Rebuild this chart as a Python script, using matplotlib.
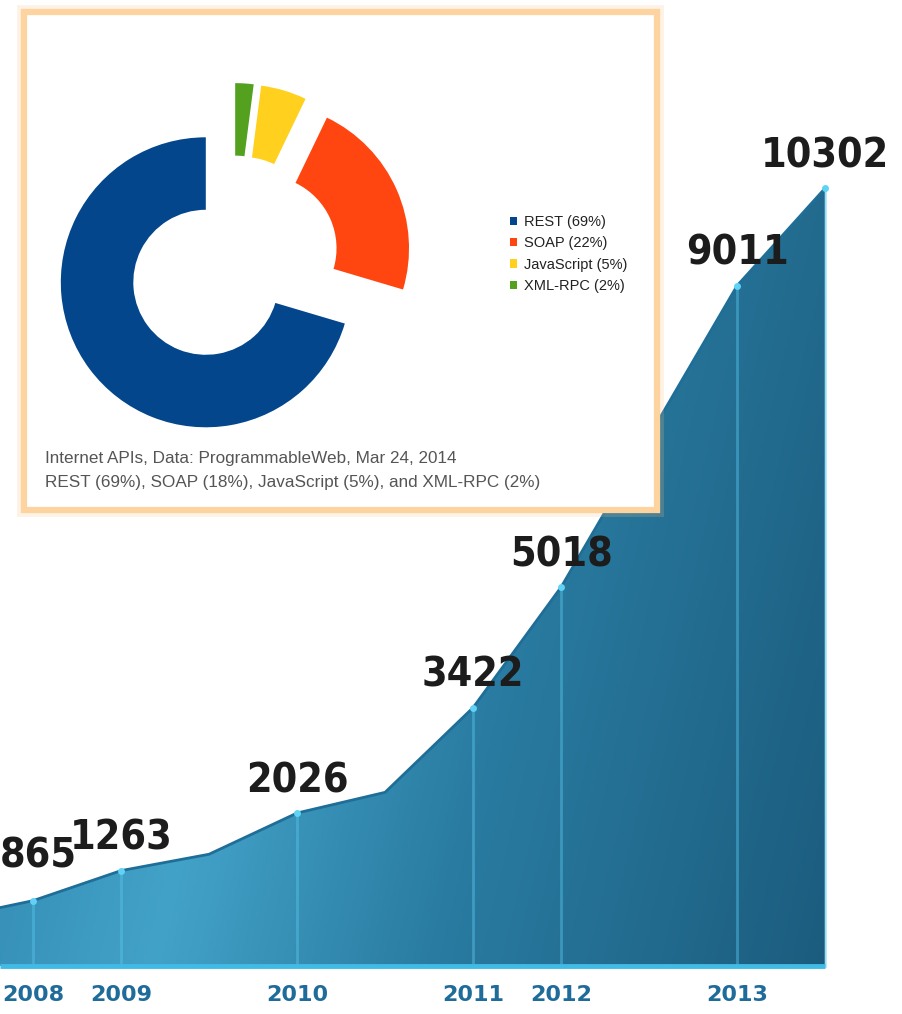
import numpy as np
import matplotlib.pyplot as plt
from matplotlib import font_manager
from matplotlib.font_manager import FontProperties
from matplotlib.patches import Rectangle
from matplotlib.colors import LinearSegmentedColormap

# API count milestones (months counted from the first labelled point)
milestone_month = [0, 6, 18, 30, 36, 48, 54]
api_count = [865, 1263, 2026, 3422, 5018, 9011, 10302]
year_labels = ['2008', '2009', '2010', '2011', '2012', '2013']

# outline of the area (includes the unlabelled bends)
curve_month = [-6, 0, 6, 12, 18, 24, 30, 36, 48, 54]
curve_count = [620, 865, 1263, 1480, 2026, 2300, 3422, 5018, 9011, 10302]

# API styles share
styles = ['REST (69%)', 'SOAP (22%)', 'JavaScript (5%)', 'XML-RPC (2%)']
shares = [69, 22, 5, 2]
style_colors = ['#03468c', '#ff4610', '#ffd11e', '#54a11f']

caption = ['Internet APIs, Data: ProgrammableWeb, Mar 24, 2014',
           'REST (69%), SOAP (18%), JavaScript (5%), and XML-RPC (2%)']

# narrow bold face for the big numbers, if one is around
narrow = None
for f in font_manager.fontManager.ttflist:
    bold = f.weight in ('bold', 700, 'heavy')
    if bold and ('Narrow' in f.name or 'Condensed' in f.name or 'Condensed' in f.fname
                 or f.stretch in ('condensed', 'semi-condensed')):
        narrow = f.fname
        break
if narrow:
    num_font = FontProperties(fname=narrow, size=29.5)
else:
    num_font = FontProperties(family='DejaVu Sans', weight='bold', size=25)

W, H = 902, 1014
fig = plt.figure(figsize=(W / 100, H / 100), dpi=100)
ax = fig.add_axes([0, 0, 1, 1])
ax.set_xlim(-2.25, 59.24)
ax.set_ylim(-636, 12795)
ax.axis('off')

# gradient-filled area
fill = ax.fill_between(curve_month, curve_count, 0, color='none', lw=0)
cmap = LinearSegmentedColormap.from_list('api', [
    (0.0, '#2b80a8'), (0.33, '#43a2c8'), (0.6, '#2a7ca2'), (1.0, '#1b5c7e')])
gx = np.linspace(0, 1, 300)
gy = np.linspace(0, 1, 200)[:, None]
grad = gx[None, :] * 0.85 + (1 - gy) * 0.18
img = ax.imshow(grad, cmap=cmap, vmin=0, vmax=1, aspect='auto', origin='lower',
                extent=(-2.25, 56.5, 0, 10302), zorder=1, interpolation='bicubic')
img.set_clip_path(fill.get_paths()[0], transform=ax.transData)

ax.plot(curve_month, curve_count, color='#1e6e98', lw=2, zorder=2)

for i, (m, v) in enumerate(zip(milestone_month, api_count)):
    ax.plot([m, m], [0, v], color='#58c6ec', lw=2, alpha=0.45, zorder=2)
    ax.plot(m, v, 'o', ms=5, color='#5fd2f6', mec='none', zorder=3)
    dx = 5 if i == 0 else 0
    dy = 44 if i == 0 else 32
    ax.annotate(str(v), (m, v), xytext=(dx, dy), textcoords='offset pixels',
                ha='center', va='center', fontproperties=num_font,
                color='#1c1c1c', zorder=4)

ax.plot([-2.25, 54], [0, 0], color='#3fbbe6', lw=3.5, zorder=3, solid_capstyle='butt')

for m, lab in zip(milestone_month, year_labels):
    ax.annotate(lab, (m, 0), xytext=(0, -29), textcoords='offset pixels',
                ha='center', va='center', fontsize=16, fontweight='bold',
                color='#1f6b9a', zorder=4)

# inset box with orange glow
def fx(px):
    return px / W

def fy(py):
    return 1 - py / H

x0, x1, y0, y1 = 24, 657, 12, 510
fig.patches.append(Rectangle((fx(x0), fy(y1)), fx(x1 - x0), (y1 - y0) / H,
                             transform=fig.transFigure, fill=False,
                             ec='#f9c07e', lw=10, alpha=0.2, zorder=5))
fig.patches.append(Rectangle((fx(x0), fy(y1)), fx(x1 - x0), (y1 - y0) / H,
                             transform=fig.transFigure, fc='white',
                             ec='#fdd4a0', lw=4.5, zorder=6))

# donut
cx, cy, half = 233, 262, 200
axd = fig.add_axes([fx(cx - half), fy(cy + half), 2 * half / W, 2 * half / H], zorder=7)
wedges, _ = axd.pie(shares, colors=style_colors, startangle=90, counterclock=True,
                    explode=[0.234] * 4, radius=1,
                    wedgeprops=dict(width=0.5, edgecolor='none'))
lim = half / 145
axd.set_xlim(-lim, lim)
axd.set_ylim(-lim, lim)
axd.set_aspect('equal')
axd.axis('off')

leg = fig.legend(wedges, styles, loc='upper left',
                 bbox_to_anchor=(fx(510), fy(215)), frameon=False,
                 prop={'family': 'Liberation Sans', 'size': 10.5},
                 handlelength=0.5, handleheight=0.5, handletextpad=0.45,
                 labelspacing=0.5, borderpad=0, borderaxespad=0)
leg.set_zorder(8)
for t in leg.get_texts():
    t.set_color('#222222')

fig.text(fx(45), fy(458), caption[0], ha='left', va='center', fontsize=12.3,
         family='Liberation Sans', color='#555555', zorder=8)
fig.text(fx(45), fy(483), caption[1], ha='left', va='center', fontsize=12.3,
         family='Liberation Sans', color='#555555', zorder=8)

fig.savefig('out.png', dpi=100, facecolor='white')
